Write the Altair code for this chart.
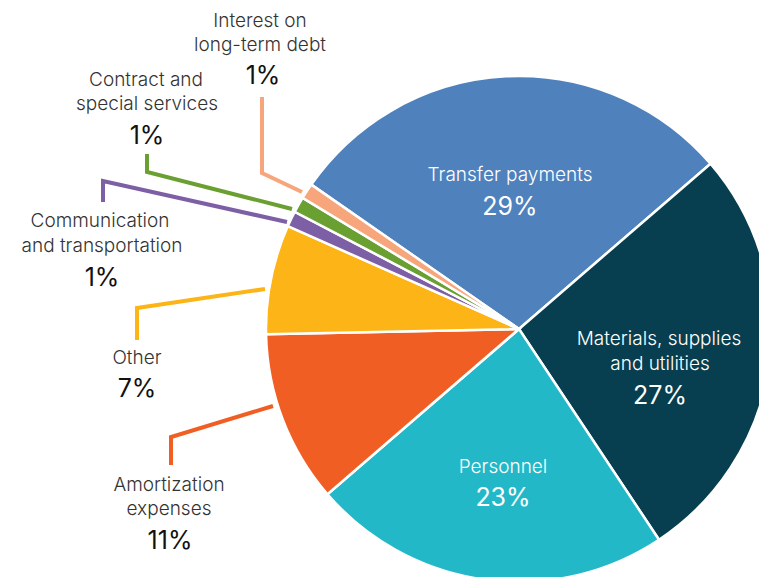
import math
import altair as alt
import pandas as pd

# ---- data ----
categories = [
    "Transfer payments",
    "Materials, supplies and utilities",
    "Personnel",
    "Amortization expenses",
    "Other",
    "Communication and transportation",
    "Contract and special services",
    "Interest on long-term debt",
]
shares = [29, 27, 23, 11, 7, 1, 1, 1]
colors = ["#4f81bd", "#073f50", "#23b8c8", "#f15e24", "#fdb416", "#7d5fa5", "#6a9f31", "#f7a67c"]

# label text lines per category
label_lines = [
    ["Transfer payments"],
    ["Materials, supplies", "and utilities"],
    ["Personnel"],
    ["Amortization", "expenses"],
    ["Other"],
    ["Communication", "and transportation"],
    ["Contract and", "special services"],
    ["Interest on", "long-term debt"],
]
inside = [True, True, True, False, False, False, False, False]

# ---- annotation layout (page pixel coordinates) ----
line_pos = [
    [(510, 175)],
    [(659, 339), (660, 364)],
    [(503, 467)],
    [(169, 485), (169, 509)],
    [(137, 358)],
    [(100, 221), (102, 246)],
    [(146, 80), (147, 104)],
    [(260, 21), (260, 45)],
]
pct_pos = [(510, 207), (660, 396), (503, 498), (170, 541), (137, 389), (102, 278), (147, 136), (263, 76)]
leaders = {
    "Interest on long-term debt": [(302, 192), (262, 173), (262, 97)],
    "Contract and special services": [(292, 209), (147, 172), (147, 154)],
    "Communication and transportation": [(287, 222), (103, 181), (103, 202)],
    "Other": [(265, 289), (137, 308), (137, 340)],
    "Amortization expenses": [(273, 406), (171, 437), (171, 465)],
}

W, H = 751, 569
CX, CY, R = 511, 321, 253
start = math.radians(304.8)

pie_df = pd.DataFrame({"category": categories, "share": shares, "ord": list(range(len(categories)))})

name_rows, pct_rows = [], []
for i, c in enumerate(categories):
    tc = "#ffffff" if inside[i] else "#333333"
    pc = "#ffffff" if inside[i] else "#111111"
    for t, (x, y) in zip(label_lines[i], line_pos[i]):
        name_rows.append({"text": t, "x": x, "y": y, "tc": tc})
    pct_rows.append({"text": f"{shares[i]}%", "x": pct_pos[i][0], "y": pct_pos[i][1], "tc": pc})
name_df = pd.DataFrame(name_rows)
pct_df = pd.DataFrame(pct_rows)

lead_rows = []
for c, pts in leaders.items():
    for k, (x, y) in enumerate(pts):
        lead_rows.append({"category": c, "k": k, "x": x, "y": y})
lead_df = pd.DataFrame(lead_rows)

xs = alt.Scale(domain=[8, 8 + W], range=[0, W])
ys = alt.Scale(domain=[8, 8 + H], range=[0, H])
cscale = alt.Scale(domain=categories, range=colors)

pie = alt.Chart(pie_df).mark_arc(outerRadius=R, stroke="white", strokeWidth=2.5).encode(
    theta=alt.Theta("share:Q", stack=True, scale=alt.Scale(range=[start, start + 2 * math.pi])),
    order=alt.Order("ord:Q"),
    color=alt.Color("category:N", scale=cscale, legend=None),
    x=alt.value(CX),
    y=alt.value(CY),
)

lines = alt.Chart(lead_df).mark_line(strokeWidth=4, strokeCap="butt", strokeJoin="miter").encode(
    x=alt.X("x:Q", scale=xs, axis=None),
    y=alt.Y("y:Q", scale=ys, axis=None),
    detail="category:N",
    order="k:Q",
    color=alt.Color("category:N", scale=cscale, legend=None),
)

names = alt.Chart(name_df).mark_text(
    font="Inter", fontSize=19, fontWeight=300, baseline="middle", align="center"
).encode(
    x=alt.X("x:Q", scale=xs, axis=None),
    y=alt.Y("y:Q", scale=ys, axis=None),
    text="text:N",
    color=alt.Color("tc:N", scale=None),
)

pcts = alt.Chart(pct_df).mark_text(
    font="Inter", fontSize=25, fontWeight=400, baseline="middle", align="center"
).encode(
    x=alt.X("x:Q", scale=xs, axis=None),
    y=alt.Y("y:Q", scale=ys, axis=None),
    text="text:N",
    color=alt.Color("tc:N", scale=None),
)

chart = alt.layer(pie, lines, names, pcts).properties(
    width=W, height=H, padding=0, autosize=alt.AutoSizeParams(type="none")
).configure_view(stroke=None).resolve_scale(color="independent")

chart.save("out.html", embed_options={"renderer": "svg", "actions": False})
